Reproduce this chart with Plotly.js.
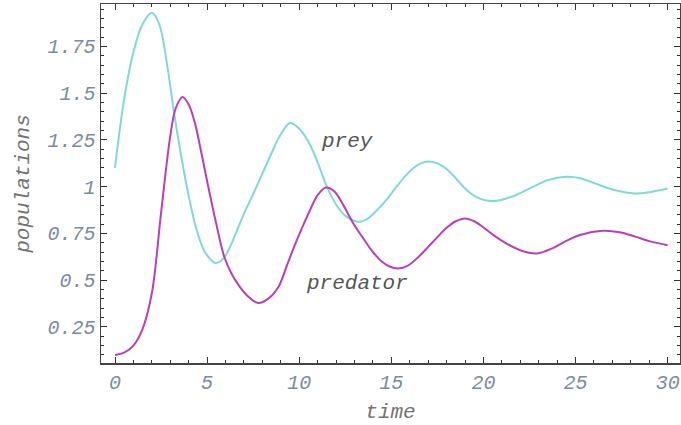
<!DOCTYPE html>
<html>
<head>
<meta charset="utf-8">
<script src="https://cdn.plot.ly/plotly-3.0.1.min.js"></script>
<style>html,body{margin:0;padding:0;background:#fff;}#chart{width:681px;height:425px;}</style>
</head>
<body>
<div id="chart"></div>
<script>
// time points and populations
const preyTime = [0, 0.5, 1.0, 1.5, 2.0, 2.4, 2.8, 3.2, 3.6, 4.0, 4.4, 4.8, 5.0, 5.45, 5.9, 6.3, 6.7, 7.0, 7.5, 8.0, 8.5, 9.0, 9.5, 10.0, 10.5, 11.0, 11.5, 12.0, 12.5, 13.2, 13.7, 14.2, 14.7, 15.2, 15.7, 16.2, 16.6, 17.0, 17.5, 18.0, 18.5, 19.0, 19.6, 20.1, 20.7, 21.5, 22.5, 23.5, 24.5, 25.25, 26.05, 27.0, 28.2, 29.1, 30];
const preyPop  = [1.10, 1.47, 1.72, 1.87, 1.93, 1.87, 1.67, 1.40, 1.16, 0.95, 0.78, 0.665, 0.633, 0.592, 0.618, 0.69, 0.785, 0.855, 0.96, 1.07, 1.18, 1.28, 1.34, 1.31, 1.24, 1.13, 1.00, 0.905, 0.845, 0.812, 0.828, 0.872, 0.925, 0.99, 1.05, 1.10, 1.125, 1.135, 1.125, 1.095, 1.045, 0.99, 0.945, 0.927, 0.925, 0.945, 0.99, 1.035, 1.053, 1.045, 1.018, 0.985, 0.964, 0.972, 0.99];

const predTime = [0, 0.5, 1.0, 1.5, 2.0, 2.5, 3.0, 3.3, 3.67, 4.0, 4.34, 4.65, 5.0, 5.5, 5.93, 6.3, 6.7, 7.2, 7.78, 8.3, 8.87, 9.3, 9.77, 10.2, 10.59, 11.0, 11.45, 11.9, 12.4, 12.94, 13.5, 14.02, 14.5, 14.93, 15.38, 15.9, 16.5, 17.0, 17.5, 18.0, 18.5, 19.0, 19.5, 20.0, 20.6, 21.26, 22.0, 22.9, 23.8, 24.5, 25.24, 26.5, 27.4, 28.23, 29.1, 30];
const predPop  = [0.10, 0.113, 0.15, 0.24, 0.43, 0.86, 1.27, 1.42, 1.48, 1.44, 1.34, 1.20, 1.03, 0.80, 0.625, 0.54, 0.475, 0.415, 0.378, 0.40, 0.464, 0.57, 0.69, 0.79, 0.875, 0.955, 0.996, 0.975, 0.90, 0.803, 0.72, 0.648, 0.598, 0.572, 0.563, 0.578, 0.627, 0.678, 0.73, 0.78, 0.815, 0.83, 0.815, 0.782, 0.737, 0.696, 0.660, 0.643, 0.673, 0.71, 0.742, 0.764, 0.756, 0.733, 0.706, 0.687];

const yTickVals = [0.25, 0.5, 0.75, 1, 1.25, 1.5, 1.75];
const yTickText = ["0.25", "0.5", "0.75", "1", "1.25", "1.5", "1.75"];
const xTickVals = [0, 5, 10, 15, 20, 25, 30];
const xTickText = ["0", "5", "10", "15", "20", "25", "30"];

const curveLabels = ["prey", "predator"];
const labelPos = [[12.58, 1.24], [13.16, 0.482]];

const mono = "Liberation Mono, Courier New, monospace";
const tickFont = {family: mono, size: 20, style: "italic", color: "#7d8ba0"};
const titleFont = {family: mono, size: 21, style: "italic", color: "#737373"};

const traces = [
  {x: preyTime, y: preyPop, mode: "lines", line: {color: "rgb(128,218,210)", width: 2, shape: "spline", smoothing: 1}, hoverinfo: "skip"},
  {x: predTime, y: predPop, mode: "lines", line: {color: "rgb(184,64,186)", width: 2, shape: "spline", smoothing: 1}, hoverinfo: "skip"}
];

const layout = {
  width: 681, height: 425,
  margin: {l: 101, r: 1, t: 4, b: 62},
  paper_bgcolor: "#fff", plot_bgcolor: "#fff",
  showlegend: false,
  xaxis: {
    range: [-0.76, 30.67], tickmode: "array", tickvals: xTickVals, ticktext: xTickText,
    ticks: "inside", ticklen: 6, tickwidth: 1, tickcolor: "#333",
    minor: {tickmode: "linear", tick0: 0, dtick: 1, ticks: "inside", ticklen: 3, tickcolor: "#333", tickwidth: 1},
    showline: true, linecolor: "#444", linewidth: 1.5, mirror: "ticks",
    showgrid: false, zeroline: false, tickfont: tickFont,
    title: {text: "time", font: titleFont, standoff: 10}
  },
  yaxis: {
    range: [0.057, 1.977], tickmode: "array", tickvals: yTickVals, ticktext: yTickText,
    ticks: "inside", ticklen: 6, tickwidth: 1, tickcolor: "#333",
    minor: {tickmode: "linear", tick0: 0, dtick: 0.05, ticks: "inside", ticklen: 3, tickcolor: "#333", tickwidth: 1},
    showline: true, linecolor: "#444", linewidth: 1.5, mirror: "ticks",
    showgrid: false, zeroline: false, tickfont: tickFont,
    title: {text: "populations", font: titleFont, standoff: 12}
  },
  annotations: curveLabels.map((t, i) => ({
    x: labelPos[i][0], y: labelPos[i][1], xref: "x", yref: "y", text: t, showarrow: false,
    font: {family: mono, size: 21, style: "italic", color: "#555"}
  }))
};

Plotly.newPlot("chart", traces, layout, {staticPlot: true, displayModeBar: false});
</script>
</body>
</html>
